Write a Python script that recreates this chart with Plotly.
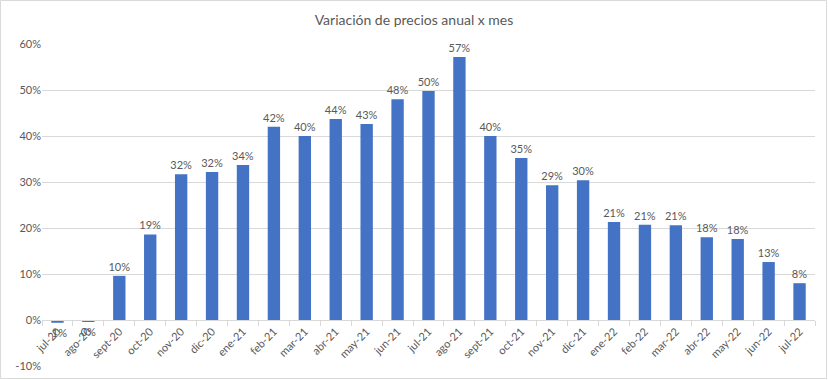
import plotly.graph_objects as go

months = ["jul-20", "ago-20", "sept-20", "oct-20", "nov-20", "dic-20", "ene-21", "feb-21",
          "mar-21", "abr-21", "may-21", "jun-21", "jul-21", "ago-21", "sept-21", "oct-21",
          "nov-21", "dic-21", "ene-22", "feb-22", "mar-22", "abr-22", "may-22", "jun-22", "jul-22"]
variacion = [-0.6, -0.4, 9.6, 18.6, 31.7, 32.2, 33.7, 42.0, 40.0, 43.7, 42.6, 48.0, 49.8,
             57.2, 40.0, 35.2, 29.3, 30.4, 21.3, 20.7, 20.6, 18.0, 17.6, 12.6, 8.0]
tick_vals = [-10, 0, 10, 20, 30, 40, 50, 60]
tick_text = ["-10%", "0%", "10%", "20%", "30%", "40%", "50%", "60%"]

labels = [f"{int(round(v))}%" for v in variacion]
labels = [l.replace("-0%", "0%") for l in labels]

W, H = 828, 380
ml, mr, mt, mb = 42, 13, 44, 14
pw, ph = W - ml - mr, H - mt - mb

fig = go.Figure(go.Bar(
    x=months, y=variacion, marker_color="#4472C4", marker_line_width=0,
    text=labels, textposition="outside", cliponaxis=False, constraintext="none",
    textfont=dict(family="Lato", size=11, color="#595959"),
))

fig.update_layout(
    width=W, height=H,
    margin=dict(l=ml, r=mr, t=mt, b=mb, autoexpand=False),
    paper_bgcolor="white", plot_bgcolor="white",
    bargap=0.6, showlegend=False,
    font=dict(family="Lato", size=11, color="#595959"),
    title=dict(text="Variación de precios anual x mes", x=0.5, xref="container",
               y=1 - 20 / H, yref="container", yanchor="middle", xanchor="center",
               font=dict(family="Lato", size=14, color="#595959")),
    xaxis=dict(anchor="free", position=10 / 70, showline=True, linecolor="#d9d9d9",
               ticks="outside", ticklen=5, tickcolor="#d9d9d9", tickson="boundaries",
               tickangle=-45, showgrid=False, automargin=False,
               tickfont=dict(size=11, color="#595959")),
    yaxis=dict(range=[-10, 60], tickvals=tick_vals, ticktext=tick_text,
               showgrid=True, gridcolor="#d9d9d9", zeroline=False, automargin=False,
               showline=False, tickfont=dict(size=11, color="#595959")),
    shapes=[dict(type="rect", xref="paper", yref="paper",
                 x0=(0.5 - ml) / pw, x1=(W - 1.5 - ml) / pw,
                 y0=-(mb - 1.5) / ph, y1=1 + (mt - 0.5) / ph,
                 line=dict(color="#d9d9d9", width=1))],
)

fig.write_html("out.html", config={"displayModeBar": False},
               post_script="document.body.style.margin='0';document.body.style.overflow='hidden';")
